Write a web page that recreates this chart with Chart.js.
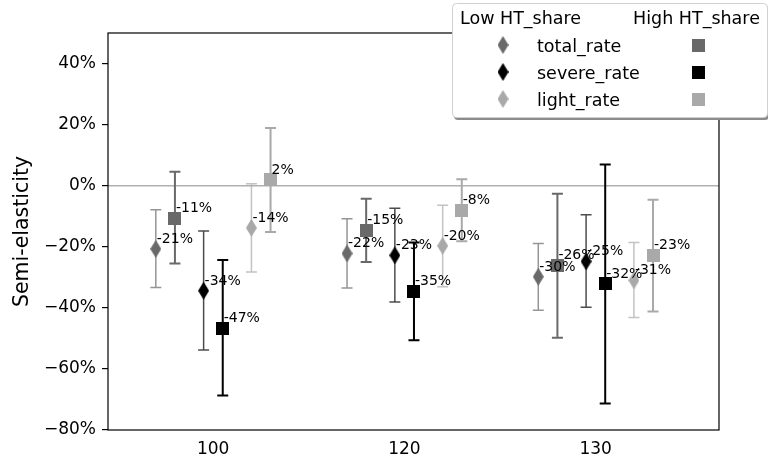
<!DOCTYPE html>
<html><head><meta charset="utf-8">
<script src="https://cdn.jsdelivr.net/npm/chart.js@4"></script>
<style>html,body{margin:0;padding:0;background:#fff}#wrap{width:768px;height:469px}</style>
</head><body><div id="wrap"><canvas id="c" width="768" height="469"></canvas></div>
<script>
// ---- data (in %) ----
const categories = ['100', '120', '130'];
const yTickValues = [-80, -60, -40, -20, 0, 20, 40];
const legendHeaders = ['Low HT_share', 'High HT_share'];
const seriesNames = ['total_rate', 'severe_rate', 'light_rate'];

const totalLow      = [-20.7, -22.2, -29.8];
const totalLowLo    = [-33.3, -33.5, -40.8];
const totalLowHi    = [-7.9, -10.8, -18.9];
const totalHigh     = [-10.6, -14.6, -26.1];
const totalHighLo   = [-25.5, -25.0, -49.8];
const totalHighHi   = [4.6, -4.3, -2.6];

const severeLow     = [-34.4, -22.8, -24.8];
const severeLowLo   = [-53.8, -38.1, -39.8];
const severeLowHi   = [-14.8, -7.4, -9.5];
const severeHigh    = [-46.7, -34.6, -32.1];
const severeHighLo  = [-68.7, -50.6, -71.3];
const severeHighHi  = [-24.3, -18.6, 6.9];

const lightLow      = [-13.8, -19.7, -31.0];
const lightLowLo    = [-28.3, -33.1, -43.2];
const lightLowHi    = [0.6, -6.4, -18.6];
const lightHigh     = [1.9, -8.1, -22.8];
const lightHighLo   = [-15.2, -18.2, -41.2];
const lightHighHi   = [18.9, 2.1, -4.6];

// ---- styles ----
const seriesColors = ['#696969', '#000000', '#a9a9a9'];
const FONT = "'DejaVu Sans', sans-serif";

function diamondImg(color) {
  const w = 11, h = 18;
  const c = document.createElement('canvas'); c.width = w; c.height = h;
  const g = c.getContext('2d'); g.fillStyle = color;
  g.beginPath(); g.moveTo(w / 2, 0); g.lineTo(w, h / 2); g.lineTo(w / 2, h); g.lineTo(0, h / 2); g.closePath(); g.fill();
  return c;
}
function squareImg(color) {
  const s = 13;
  const c = document.createElement('canvas'); c.width = s; c.height = s;
  const g = c.getContext('2d'); g.fillStyle = color; g.fillRect(0, 0, s, s);
  return c;
}
const diamonds = seriesColors.map(diamondImg);
const squares = seriesColors.map(squareImg);

// group offsets (layout) within each category
const offsets = [[-0.3, -0.2], [-0.05, 0.05], [0.2, 0.3]];

const seriesData = [
  [[totalLow, totalLowLo, totalLowHi], [totalHigh, totalHighLo, totalHighHi]],
  [[severeLow, severeLowLo, severeLowHi], [severeHigh, severeHighLo, severeHighHi]],
  [[lightLow, lightLowLo, lightLowHi], [lightHigh, lightHighLo, lightHighHi]]
];

const datasets = [];
seriesData.forEach((pair, si) => {
  pair.forEach((trip, gi) => {
    const [vals, lo, hi] = trip;
    datasets.push({
      label: seriesNames[si] + (gi ? ' high' : ' low'),
      data: vals.map((v, i) => ({ x: i + offsets[si][gi], y: v })),
      errLo: lo, errHi: hi,
      errColor: seriesColors[si],
      errAlpha: gi ? 1 : 0.7,
      errWidth: gi ? 2 : 1.5,
      pointStyle: gi ? squares[si] : diamonds[si],
      pointRadius: 7,
      pointHoverRadius: 7,
      showLine: false
    });
  });
});

const errorBars = {
  id: 'errorBars',
  beforeDatasetsDraw(chart) {
    const ctx = chart.ctx, ys = chart.scales.y, a = chart.chartArea;
    ctx.save();
    // zero line
    ctx.strokeStyle = '#b0b0b0'; ctx.lineWidth = 1.5;
    const y0 = ys.getPixelForValue(0);
    ctx.beginPath(); ctx.moveTo(a.left, y0); ctx.lineTo(a.right, y0); ctx.stroke();
    chart.data.datasets.forEach((ds, di) => {
      const meta = chart.getDatasetMeta(di);
      ctx.strokeStyle = ds.errColor; ctx.globalAlpha = ds.errAlpha; ctx.lineWidth = ds.errWidth;
      meta.data.forEach((el, i) => {
        const x = el.x, yl = ys.getPixelForValue(ds.errLo[i]), yh = ys.getPixelForValue(ds.errHi[i]);
        ctx.beginPath();
        ctx.moveTo(x, yl); ctx.lineTo(x, yh);
        ctx.moveTo(x - 5.5, yl); ctx.lineTo(x + 5.5, yl);
        ctx.moveTo(x - 5.5, yh); ctx.lineTo(x + 5.5, yh);
        ctx.stroke();
      });
    });
    ctx.restore();
  },
  afterDatasetsDraw(chart) {
    const ctx = chart.ctx, a = chart.chartArea;
    ctx.save();
    // frame
    ctx.strokeStyle = '#000'; ctx.lineWidth = 1.2;
    ctx.strokeRect(a.left, a.top, a.right - a.left, a.bottom - a.top);
    // value labels
    ctx.fillStyle = '#000'; ctx.font = '14px ' + FONT; ctx.textAlign = 'left'; ctx.textBaseline = 'alphabetic';
    chart.data.datasets.forEach((ds, di) => {
      const meta = chart.getDatasetMeta(di);
      meta.data.forEach((el, i) => {
        const v = Math.round(ds.data[i].y);
        ctx.fillText((v < 0 ? '-' : '') + Math.abs(v) + '%', el.x + 1, el.y - 6);
      });
    });
    ctx.restore();
  },
  afterDraw(chart) {
    const ctx = chart.ctx;
    ctx.save();
    const bx = 452, by = 3, bw = 315, bh = 114, r = 4;
    // shadow
    ctx.fillStyle = '#8c8c8c';
    ctx.beginPath(); ctx.roundRect(bx + 2, by + 3, bw, bh, r); ctx.fill();
    ctx.fillStyle = '#fff'; ctx.strokeStyle = '#d0d0d0'; ctx.lineWidth = 1;
    ctx.beginPath(); ctx.roundRect(bx + 0.5, by + 0.5, bw, bh, r); ctx.fill(); ctx.stroke();
    ctx.fillStyle = '#000'; ctx.font = '17.5px ' + FONT; ctx.textBaseline = 'alphabetic'; ctx.textAlign = 'left';
    ctx.fillText(legendHeaders[0], 460, 24);
    ctx.fillText(legendHeaders[1], 633, 24);
    const rowY = [45, 72, 99];
    seriesNames.forEach((n, si) => {
      const d = diamonds[si], s = squares[si];
      ctx.drawImage(d, 503 - d.width / 2, rowY[si] - d.height / 2);
      ctx.drawImage(s, 698 - s.width / 2, rowY[si] - s.height / 2);
      ctx.fillStyle = '#000';
      ctx.fillText(n, 537, rowY[si] + 7);
    });
    ctx.restore();
  }
};

new Chart(document.getElementById('c'), {
  type: 'scatter',
  data: { datasets },
  plugins: [errorBars],
  options: {
    responsive: false,
    animation: false,
    devicePixelRatio: 1,
    layout: { padding: { top: 33, right: 49, left: 0, bottom: 0 } },
    plugins: { legend: { display: false }, tooltip: { enabled: false } },
    scales: {
      x: {
        type: 'linear', min: -0.55, max: 2.645,
        afterBuildTicks: s => { s.ticks = categories.map((c, i) => ({ value: i })); },
        afterFit: s => { s.height = 39; },
        ticks: { callback: v => categories[v], color: '#000', font: { family: FONT, size: 17 }, padding: 1, maxRotation: 0 },
        grid: { display: false },
        border: { display: false }
      },
      y: {
        min: -80, max: 50,
        afterBuildTicks: s => { s.ticks = yTickValues.map(v => ({ value: v })); },
        afterFit: s => { s.width = 108; },
        ticks: { callback: v => (v < 0 ? '\u2212' : '') + Math.abs(v) + '%', color: '#000', font: { family: FONT, size: 17 }, padding: 6 },
        grid: { drawOnChartArea: false, drawTicks: true, tickLength: 6, color: '#000', lineWidth: 1.2 },
        border: { display: false },
        title: { display: true, text: 'Semi-elasticity', color: '#000', font: { family: FONT, size: 20.5 }, padding: { top: 10, bottom: 0 } }
      }
    }
  }
});
</script>
</body></html>
